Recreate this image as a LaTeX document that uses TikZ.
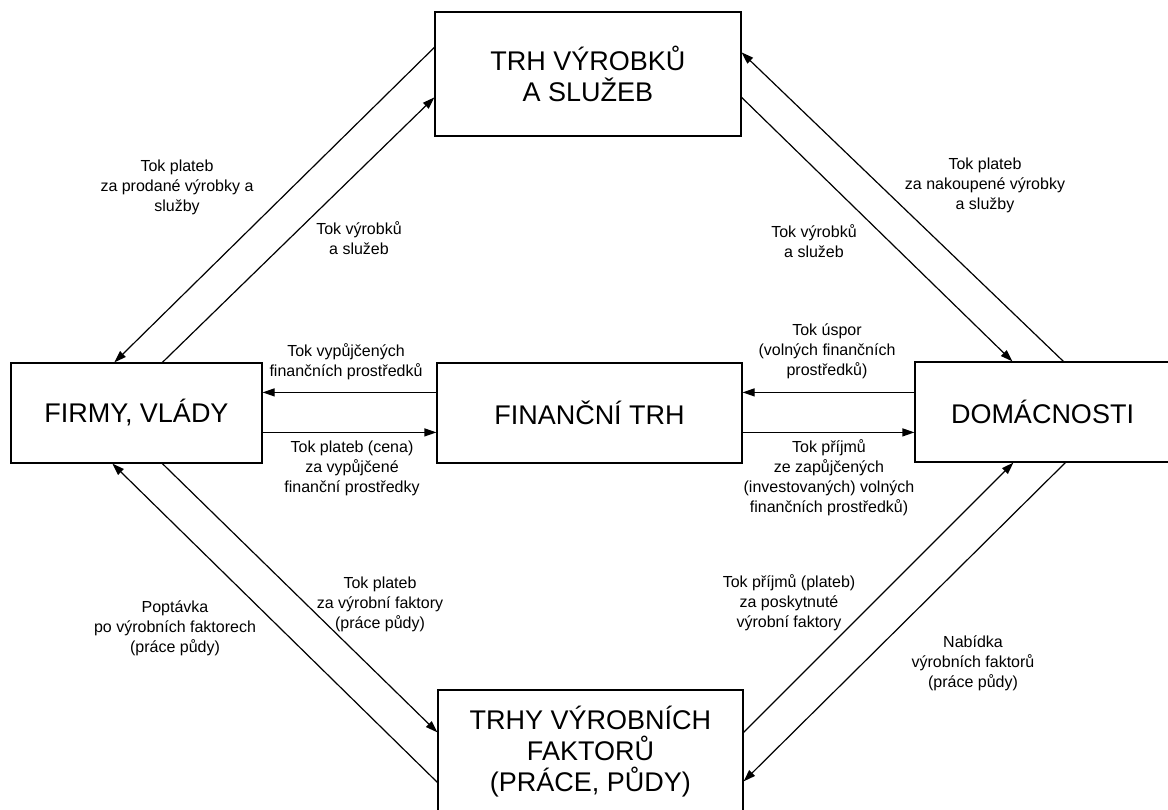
\documentclass[tikz,border=0pt]{standalone}
\usepackage{fontspec}
\setmainfont{Liberation Sans}
\usepackage{tikz}
\usetikzlibrary{arrows.meta}

\begin{document}
\begin{tikzpicture}[x=1pt,y=-1pt,>={Triangle[length=12pt,width=8pt]}]
\tikzstyle{market}=[draw,line width=1.2pt,inner sep=0pt,align=center,font=\fontsize{27}{31}\selectfont]
\tikzstyle{flowlabel}=[align=center,inner sep=0pt,font=\fontsize{16}{20}\selectfont]
\useasboundingbox (0,0) rectangle (1168,810);
\node [market,minimum width=306pt,minimum height=124pt] (trh) at (588,74) {TRH VÝROBKŮ\\A SLUŽEB};
\node [market,minimum width=251pt,minimum height=100pt] (firmy) at (136.5,413) {FIRMY, VLÁDY};
\node [market,minimum width=305pt,minimum height=100pt] (fin) at (589.5,413) {FINANČNÍ TRH};
\node [market,minimum width=255pt,minimum height=100pt] (dom) at (1042.5,412) {DOMÁCNOSTI};
\node [market,minimum width=305pt,minimum height=124pt] (fakt) at (590.5,752) {TRHY VÝROBNÍCH\\FAKTORŮ\\(PRÁCE, PŮDY)};
\path[->,line width=1.2pt]
    ([yshift=-36pt]trh.north west) edge ([xshift=104pt]firmy.north west)
    ([xshift=152pt]firmy.north west) edge ([yshift=-86pt]trh.north west)
    ([xshift=149pt]dom.north west) edge ([yshift=-41pt]trh.north east)
    ([yshift=-86pt]trh.north east) edge ([xshift=98pt]dom.north west)
    ([yshift=-30pt]fin.north west) edge ([yshift=-30pt]firmy.north east)
    ([yshift=-70pt]firmy.north east) edge ([yshift=-70pt]fin.north west)
    ([yshift=-31pt]dom.north west) edge ([yshift=-30pt]fin.north east)
    ([yshift=-70pt]fin.north east) edge ([yshift=-71pt]dom.north west)
    ([yshift=-93pt]fakt.north west) edge ([xshift=102pt]firmy.south west)
    ([xshift=152pt]firmy.south west) edge ([yshift=-43pt]fakt.north west)
    ([yshift=-43pt]fakt.north east) edge ([xshift=99pt]dom.south west)
    ([xshift=151pt]dom.south west) edge ([yshift=-92pt]fakt.north east);
\node [flowlabel] (l1) at (177,187) {Tok plateb\\za prodané výrobky a\\služby};
\node [flowlabel] (l2) at (359,238) {Tok výrobků\\a služeb};
\node [flowlabel] (l3) at (985,185) {Tok plateb\\za nakoupené výrobky\\a služby};
\node [flowlabel] (l4) at (814,241) {Tok výrobků\\a služeb};
\node [flowlabel] (l5) at (346,362) {Tok vypůjčených\\finančních prostředků};
\node [flowlabel] (l6) at (827,351) {Tok úspor\\(volných finančních\\prostředků)};
\node [flowlabel] (l7) at (352,468) {Tok plateb (cena)\\za vypůjčené\\finanční prostředky};
\node [flowlabel] (l8) at (829,478) {Tok příjmů\\ze zapůjčených\\(investovaných) volných\\finančních prostředků)};
\node [flowlabel] (l9) at (380,604) {Tok plateb\\za výrobní faktory\\(práce půdy)};
\node [flowlabel] (l10) at (175,628) {Poptávka\\po výrobních faktorech\\(práce půdy)};
\node [flowlabel] (l11) at (789,603) {Tok příjmů (plateb)\\za poskytnuté\\výrobní faktory};
\node [flowlabel] (l12) at (973,663) {Nabídka\\výrobních faktorů\\(práce půdy)};
\end{tikzpicture}
\end{document}
